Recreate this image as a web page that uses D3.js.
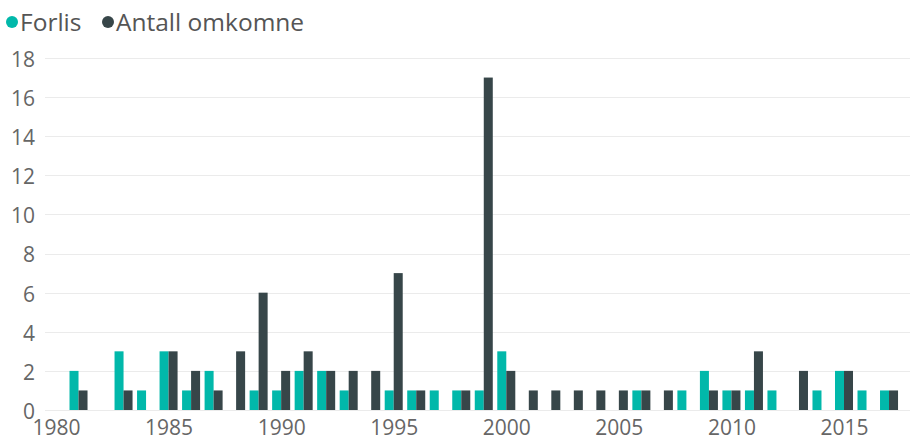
<!DOCTYPE html>
<html>
<head>
<meta charset="utf-8">
<script src="https://cdn.jsdelivr.net/npm/d3@7"></script>
<style>
  html, body { margin: 0; padding: 0; background: #fff; }
  svg { display: block; font-family: "Open Sans", "Noto Sans", sans-serif; }
</style>
</head>
<body>
<svg id="chart" width="910" height="441"></svg>
<script>
// Years and the two series: number of shipwrecks (Forlis) and number of deaths (Antall omkomne)
const years = d3.range(1981, 2018);
const forlis = [2,0,3,1,3,1,2,0,1,1,2,2,1,0,1,1,1,1,1,3,0,0,0,0,0,1,0,1,2,1,1,1,0,1,2,1,1];
const omkomne = [1,0,1,0,3,2,1,3,6,2,3,2,2,2,7,1,0,1,17,2,1,1,1,1,1,1,1,0,1,1,3,0,2,0,2,0,1];
const yTicks = [0,2,4,6,8,10,12,14,16,18];
const xTicks = [1980,1985,1990,1995,2000,2005,2010,2015];
const seriesNames = ["Forlis", "Antall omkomne"];
const colors = ["#01B8AA", "#374649"];

const svg = d3.select("#chart");

const x = d3.scaleLinear().domain([1980, 2015]).range([56, 844]);
const y = d3.scaleLinear().domain([0, 18]).range([410, 58]);
const yearStep = x(1981) - x(1980);
const barW = yearStep * 0.4;

// horizontal gridlines
svg.append("g")
  .selectAll("line")
  .data(yTicks)
  .join("line")
  .attr("x1", 45).attr("x2", 910)
  .attr("y1", d => Math.round(y(d)) + 0.5)
  .attr("y2", d => Math.round(y(d)) + 0.5)
  .attr("stroke", "#ebebeb")
  .attr("stroke-width", 1);

// y axis labels
const yAxis = d3.axisLeft(y).tickValues(yTicks).tickSize(0).tickPadding(0);
svg.append("g")
  .attr("transform", "translate(35,0)")
  .call(yAxis)
  .call(g => g.select(".domain").remove())
  .call(g => g.selectAll("text")
    .attr("fill", "#666")
    .attr("font-size", 21)
    .attr("dy", "0.4em")
    .attr("font-family", "'Open Sans', sans-serif"));

// x axis labels
const xAxis = d3.axisBottom(x).tickValues(xTicks).tickFormat(d3.format("d")).tickSize(0).tickPadding(0);
svg.append("g")
  .attr("transform", "translate(0,419)")
  .call(xAxis)
  .call(g => g.select(".domain").remove())
  .call(g => g.selectAll("text")
    .attr("fill", "#666")
    .attr("font-size", 21)
    .attr("dy", "0.78em")
    .attr("font-family", "'Open Sans', sans-serif"));

// bars
const rows = years.map((yr, i) => ({ year: yr, values: [forlis[i], omkomne[i]] }));
const groups = svg.append("g").selectAll("g")
  .data(rows)
  .join("g");
groups.selectAll("rect")
  .data(d => d.values.map((v, k) => ({ year: d.year, v, k })).filter(e => e.v > 0))
  .join("rect")
  .attr("x", d => x(d.year) - barW + d.k * barW)
  .attr("width", barW)
  .attr("y", d => y(d.v))
  .attr("height", d => y(0) - y(d.v))
  .attr("fill", d => colors[d.k]);

// legend: marker and label per series
const legendX = [12, 108];
const legend = svg.append("g").attr("transform", "translate(0,22)");
seriesNames.forEach((name, k) => {
  legend.append("circle").attr("cx", legendX[k]).attr("cy", 0).attr("r", 6).attr("fill", colors[k]);
  legend.append("text")
    .attr("x", legendX[k] + 8)
    .attr("y", 0)
    .attr("dy", "0.36em")
    .attr("fill", "#555")
    .attr("font-size", 24.5)
    .text(name);
});
</script>
</body>
</html>
